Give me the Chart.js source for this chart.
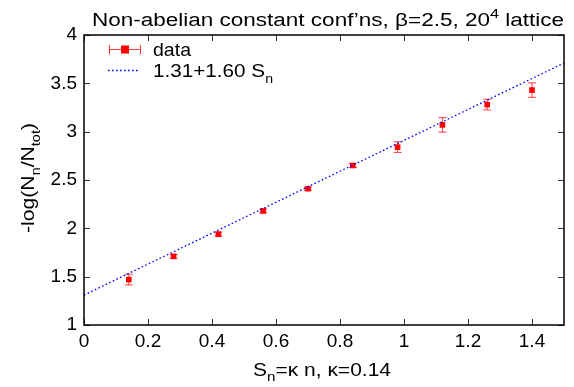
<!DOCTYPE html>
<html>
<head>
<meta charset="utf-8">
<script src="https://cdn.jsdelivr.net/npm/chart.js@4.4.0/dist/chart.umd.min.js"></script>
<style>
  html, body { margin: 0; padding: 0; background: #fff; }
  #mycanvas { display: block; }
</style>
</head>
<body>
<canvas id="mycanvas" width="574" height="387"></canvas>
<script>
// S_n = kappa * n, kappa = 0.14
var sn = [0.14, 0.28, 0.42, 0.56, 0.70, 0.84, 0.98, 1.12, 1.26, 1.40];
var logN = [1.47, 1.71, 1.94, 2.18, 2.41, 2.65, 2.84, 3.07, 3.28, 3.43];
var errN = [0.055, 0.02, 0.02, 0.02, 0.015, 0.02, 0.055, 0.075, 0.055, 0.075];

// fit 1.31 + 1.60 S_n, end points
var fitX = [0, 1.5];
var fitY = [1.31, 3.71];

var xTicks = [0, 0.2, 0.4, 0.6, 0.8, 1.0, 1.2, 1.4];
var xTickLabels = ["0", "0.2", "0.4", "0.6", "0.8", "1", "1.2", "1.4"];
var yTicks = [1, 1.5, 2, 2.5, 3, 3.5, 4];
var yTickLabels = ["1", "1.5", "2", "2.5", "3", "3.5", "4"];

var FONT = "'Liberation Sans', Arial, sans-serif";

// text with sub/superscripts, optionally stretched to a given width
function drawRich(ctx, parts, x, y, size, align, targetW) {
  var small = Math.round(size * 0.7);
  var w = 0;
  parts.forEach(function(p) {
    ctx.font = (p.sub || p.sup ? small : size) + "px " + FONT;
    p.w = ctx.measureText(p.t).width;
    w += p.w;
  });
  var sx = targetW ? targetW / w : 1;
  var start = x;
  if (align === "center") start = x - w * sx / 2;
  else if (align === "right") start = x - w * sx;
  ctx.save();
  ctx.translate(start, y);
  ctx.scale(sx, 1);
  ctx.textAlign = "left";
  ctx.textBaseline = "alphabetic";
  var cx = 0;
  parts.forEach(function(p) {
    ctx.font = (p.sub || p.sup ? small : size) + "px " + FONT;
    var dy = p.sub ? size * 0.3 : (p.sup ? -size * 0.42 : 0);
    ctx.fillText(p.t, cx, dy);
    cx += p.w;
  });
  ctx.restore();
}

var gnuplotLook = {
  id: "gnuplotLook",
  beforeDatasetsDraw: function(chart) {
    var ctx = chart.ctx, xs = chart.scales.x, ys = chart.scales.y;
    ctx.save();
    ctx.strokeStyle = "rgba(255,0,0,0.75)";
    ctx.lineWidth = 1;
    for (var i = 0; i < sn.length; i++) {
      var px = xs.getPixelForValue(sn[i]);
      var y1 = ys.getPixelForValue(logN[i] - errN[i]);
      var y2 = ys.getPixelForValue(logN[i] + errN[i]);
      ctx.beginPath();
      ctx.moveTo(px, y1); ctx.lineTo(px, y2);
      ctx.moveTo(px - 4, y1); ctx.lineTo(px + 4, y1);
      ctx.moveTo(px - 4, y2); ctx.lineTo(px + 4, y2);
      ctx.stroke();
    }
    ctx.restore();
  },
  afterDraw: function(chart) {
    var ctx = chart.ctx, a = chart.chartArea, xs = chart.scales.x, ys = chart.scales.y;
    ctx.save();
    // inward ticks on all sides
    ctx.strokeStyle = "#333";
    ctx.lineWidth = 1;
    ctx.beginPath();
    xTicks.forEach(function(v) {
      var px = Math.round(xs.getPixelForValue(v)) + 0.5;
      ctx.moveTo(px, a.bottom); ctx.lineTo(px, a.bottom - 6);
      ctx.moveTo(px, a.top); ctx.lineTo(px, a.top + 6);
    });
    yTicks.forEach(function(v) {
      var py = Math.round(ys.getPixelForValue(v)) + 0.5;
      ctx.moveTo(a.left, py); ctx.lineTo(a.left + 6, py);
      ctx.moveTo(a.right, py); ctx.lineTo(a.right - 6, py);
    });
    ctx.stroke();
    // frame
    ctx.strokeStyle = "#000";
    ctx.lineWidth = 1.5;
    ctx.strokeRect(a.left, a.top, a.right - a.left, a.bottom - a.top);

    ctx.fillStyle = "#000";
    // title
    drawRich(ctx, [{t: "Non-abelian constant conf\u2019ns, \u03b2=2.5, 20"}, {t: "4", sup: true}, {t: " lattice"}], 328, 26, 18, "center", 472);
    // x title
    drawRich(ctx, [{t: "S"}, {t: "n", sub: true}, {t: "=\u03ba n, \u03ba=0.14"}], 322, 376, 18, "center", 138);
    // y title
    ctx.save();
    ctx.translate(34, 178);
    ctx.rotate(-Math.PI / 2);
    drawRich(ctx, [{t: "-log(N"}, {t: "n", sub: true}, {t: "/N"}, {t: "tot", sub: true}, {t: ")"}], 0, 0, 19, "center", 110);
    ctx.restore();

    // legend
    ctx.strokeStyle = "rgba(255,0,0,0.75)";
    ctx.lineWidth = 1;
    ctx.beginPath();
    ctx.moveTo(109, 49.5); ctx.lineTo(141, 49.5);
    ctx.moveTo(109.5, 45); ctx.lineTo(109.5, 54);
    ctx.moveTo(140.5, 45); ctx.lineTo(140.5, 54);
    ctx.stroke();
    ctx.fillStyle = "#ff0000";
    ctx.fillRect(121, 45.5, 8, 8);
    ctx.strokeStyle = "#0000ff";
    ctx.lineWidth = 1.3;
    ctx.setLineDash([1.6, 2.4]);
    ctx.beginPath();
    ctx.moveTo(108, 70.5); ctx.lineTo(138, 70.5);
    ctx.stroke();
    ctx.setLineDash([]);
    ctx.fillStyle = "#000";
    drawRich(ctx, [{t: "data"}], 153, 56, 19, "left", 38);
    drawRich(ctx, [{t: "1.31+1.60 S"}, {t: "n", sub: true}], 153, 77, 19, "left", 120);
    ctx.restore();
  }
};

var ctx = document.getElementById("mycanvas").getContext("2d");

var chartdata = {
  datasets: [
    {
      label: "1.31+1.60 S_n",
      type: "line",
      data: fitX.map(function(x, i) { return {x: x, y: fitY[i]}; }),
      borderColor: "#0000ff",
      borderWidth: 1.3,
      borderDash: [1.6, 2.4],
      pointRadius: 0,
      fill: false,
      tension: 0
    },
    {
      label: "data",
      type: "scatter",
      data: sn.map(function(x, i) { return {x: x, y: logN[i]}; }),
      backgroundColor: "#ff0000",
      borderColor: "#ff0000",
      pointStyle: "rect",
      pointRadius: 4,
      pointBorderWidth: 0
    }
  ]
};

var LineGraph = new Chart(ctx, {
  type: "scatter",
  data: chartdata,
  options: {
    responsive: false,
    animation: false,
    layout: { padding: { top: 35, right: 10, left: 0, bottom: 0 } },
    plugins: {
      legend: { display: false },
      title: { display: false },
      tooltip: { enabled: false }
    },
    scales: {
      x: {
        type: "linear",
        min: 0,
        max: 1.5,
        afterBuildTicks: function(axis) { axis.ticks = xTicks.map(function(v) { return {value: v}; }); },
        afterFit: function(axis) { axis.height = 62; },
        ticks: {
          color: "#000",
          font: { family: FONT, size: 19 },
          padding: 5,
          maxRotation: 0,
          callback: function(v) { return xTickLabels[xTicks.indexOf(v)]; }
        },
        grid: { display: false, drawTicks: false },
        border: { display: false }
      },
      y: {
        type: "linear",
        min: 1,
        max: 4,
        afterBuildTicks: function(axis) { axis.ticks = yTicks.map(function(v) { return {value: v}; }); },
        afterFit: function(axis) { axis.width = 84; },
        ticks: {
          color: "#000",
          font: { family: FONT, size: 19 },
          padding: 7,
          callback: function(v) { return yTickLabels[yTicks.indexOf(v)]; }
        },
        grid: { display: false, drawTicks: false },
        border: { display: false }
      }
    }
  },
  plugins: [gnuplotLook]
});
</script>
</body>
</html>
